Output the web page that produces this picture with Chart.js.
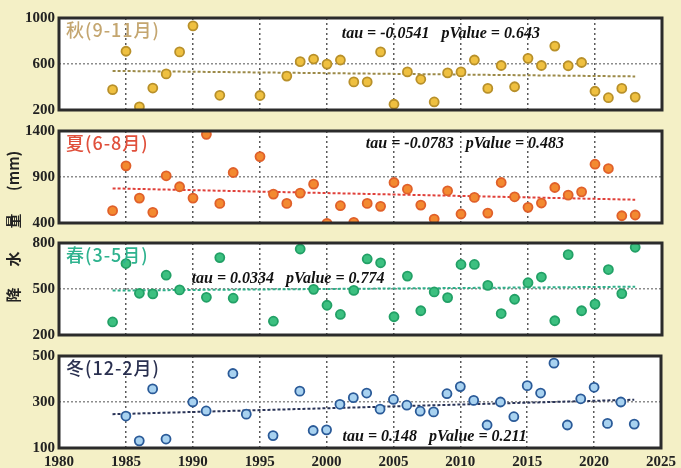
<!DOCTYPE html>
<html>
<head>
<meta charset="utf-8">
<script src="https://cdn.jsdelivr.net/npm/chart.js@4.4.1/dist/chart.umd.min.js"></script>
<style>
body { margin: 0; background: #f4f0c6; }
#wrap { position: relative; width: 681px; height: 468px; background: #f4f0c6; overflow: hidden; }
#wrap canvas { position: absolute; left: 0; }
.yt { position: absolute; font-family: "Noto Sans CJK SC"; font-weight: bold; font-size: 15px; color: #222;
      line-height: 16px; width: 40px; height: 16px; text-align: center; transform: rotate(-90deg); }
</style>
</head>
<body>
<div id="wrap">
  <canvas id="autumn" width="681" height="122" style="top:4px"></canvas>
  <canvas id="summer" width="681" height="122" style="top:117px"></canvas>
  <canvas id="spring" width="681" height="122" style="top:229px"></canvas>
  <canvas id="winter" width="681" height="132" style="top:342px"></canvas>
  <div class="yt" style="left:-7px;top:287px">降</div>
  <div class="yt" style="left:-7px;top:251px">水</div>
  <div class="yt" style="left:-7px;top:213px">量</div>
  <div class="yt" style="left:-7px;top:163px">(mm)</div>
</div>
<script>
// years 1984-2023, null where the reference shows no point
const years = [1984, 1985, 1986, 1987, 1988, 1989, 1990, 1991, 1992, 1993,
               1994, 1995, 1996, 1997, 1998, 1999, 2000, 2001, 2002, 2003,
               2004, 2005, 2006, 2007, 2008, 2009, 2010, 2011, 2012, 2013,
               2014, 2015, 2016, 2017, 2018, 2019, 2020, 2021, 2022, 2023];

const autumnRain = [377, 711, 228, 391, 514, 705, 932, null, 328, null,
                    null, 326, null, 495, 621, 643, 599, 635, 444, 444,
                    705, 250, 531, 467, 270, 523, 531, 635, 388, 587,
                    402, 649, 587, 756, 585, 613, 363, 307, 388, 312];

const summerRain = [534, 1021, 671, 516, 913, 794, 671, 1364, 613, 949,
                    null, 1122, 714, 613, 725, 822, 396, 588, 407, 613,
                    581, 840, 768, 595, 443, 750, 498, 678, 508, 840,
                    685, 570, 617, 786, 703, 739, 1039, 992, 479, 487];

const springRain = [285, 666, 472, 468, 590, 494, null, 446, 705, 440,
                    null, null, 290, null, 761, 498, 394, 334, 491, 696,
                    671, 319, 584, 358, 481, 444, 660, 660, 524, 340,
                    433, 541, 578, 293, 724, 358, 401, 627, 470, 772];

const winterRain = [null, 239, 131, 357, 139, null, 300, 261, null, 424,
                    247, null, 154, null, 347, 176, 179, 290, 319, 339,
                    269, 311, 286, 260, 257, 336, 367, 307, 200, 300,
                    236, 371, 339, 469, 200, 314, 364, 207, 300, 204];

// trend line end values at 1984 and 2023
const trendYears = [1984, 2023];
const autumnTrend = [540, 492];
const summerTrend = [776, 653];
const springTrend = [490, 515];
const winterTrend = [247, 310];

const xTicks = [1980, 1985, 1990, 1995, 2000, 2005, 2010, 2015, 2020, 2025];

// plot area of each panel in page pixels (top edge), all 92 high
const panelTops = { autumn: 18, summer: 131, spring: 243, winter: 356 };
const panelHeight = 92;

const panelPlugin = {
    id: 'panel',
    beforeDraw(chart) {
        const a = chart.chartArea, ctx = chart.ctx;
        ctx.save();
        ctx.fillStyle = '#ffffff';
        ctx.fillRect(a.left, a.top, a.right - a.left, a.bottom - a.top);
        ctx.restore();
    },
    afterDraw(chart, args, opts) {
        const a = chart.chartArea, ctx = chart.ctx;
        ctx.save();
        ctx.strokeStyle = '#2b2b2b';
        ctx.lineWidth = 3;
        ctx.strokeRect(a.left, a.top, a.right - a.left, a.bottom - a.top);

        ctx.fillStyle = opts.labelColor;
        ctx.font = '500 18px "Noto Sans CJK SC"';
        ctx.letterSpacing = '1px';
        ctx.textAlign = 'left';
        ctx.textBaseline = 'middle';
        ctx.fillText(opts.label, a.left + 7, a.top + 12);

        const xs = chart.scales.x, ys = chart.scales.y;
        ctx.letterSpacing = '0px';
        ctx.fillStyle = '#111';
        ctx.font = 'italic bold 16px "Liberation Serif"';
        ctx.fillText(opts.stat, xs.getPixelForValue(opts.statAt[0]), ys.getPixelForValue(opts.statAt[1]));
        ctx.restore();
    }
};

function makePanel(id, values, trend, yMin, yMax, look, showX) {
    const pts = [];
    years.forEach((yr, i) => {
        if (values[i] !== null) pts.push({ x: yr, y: values[i] });
    });
    const mid = (yMin + yMax) / 2;
    const canvas = document.getElementById(id);
    const chart = new Chart(canvas, {
        type: 'scatter',
        data: {
            datasets: [
                {
                    data: pts,
                    pointRadius: 4.5,
                    pointBackgroundColor: look.fill,
                    pointBorderColor: look.edge,
                    pointBorderWidth: 1.8,
                    order: 1
                },
                {
                    type: 'line',
                    data: [{ x: trendYears[0], y: trend[0] }, { x: trendYears[1], y: trend[1] }],
                    borderColor: look.trend,
                    borderWidth: 2,
                    borderDash: [3, 2],
                    pointRadius: 0,
                    fill: false,
                    order: 2
                }
            ]
        },
        options: {
            responsive: false,
            maintainAspectRatio: false,
            animation: false,
            layout: { padding: { top: 10, right: 19, left: 0, bottom: 0 } },
            plugins: {
                legend: { display: false },
                tooltip: { enabled: false },
                panel: { label: look.label, labelColor: look.labelColor, stat: look.stat, statAt: look.statAt }
            },
            scales: {
                x: {
                    type: 'linear',
                    min: 1980,
                    max: 2025,
                    afterBuildTicks: s => { s.ticks = xTicks.map(v => ({ value: v })); },
                    ticks: {
                        display: showX,
                        callback: v => String(v),
                        font: { family: 'Liberation Serif', weight: 'bold', size: 15 },
                        color: '#222',
                        padding: 5,
                        maxRotation: 0,
                        autoSkip: false
                    },
                    grid: {
                        color: c => (c.tick && c.tick.value > 1980 && c.tick.value < 2025) ? '#5a5a5a' : 'rgba(0,0,0,0)',
                        lineWidth: 1.5,
                        drawTicks: false
                    },
                    border: { display: false, dash: [2, 3] },
                    afterFit: s => { s.height = showX ? 24 : 10; }
                },
                y: {
                    min: yMin,
                    max: yMax,
                    afterBuildTicks: s => { s.ticks = [yMin, mid, yMax].map(v => ({ value: v })); },
                    ticks: {
                        callback: v => String(v),
                        font: { family: 'Liberation Serif', weight: 'bold', size: 15 },
                        color: '#222',
                        padding: 4
                    },
                    grid: {
                        color: c => (c.tick && c.tick.value === mid) ? '#8c8c8c' : 'rgba(0,0,0,0)',
                        lineWidth: 1.5,
                        drawTicks: false
                    },
                    border: { display: false, dash: [2, 2] },
                    afterFit: s => { s.width = 59; }
                }
            }
        },
        plugins: [panelPlugin]
    });

    // make the plot area exactly panelHeight tall and put it at its page position
    const a = chart.chartArea;
    const fix = panelHeight - (a.bottom - a.top);
    if (fix !== 0) chart.resize(681, canvas.height + fix);
    canvas.style.top = (panelTops[id] - chart.chartArea.top) + 'px';
    return chart;
}

makePanel('autumn', autumnRain, autumnTrend, 200, 1000, {
    fill: '#efc040', edge: '#b8902a', trend: '#9c8a48',
    label: '秋(9-11月)', labelColor: '#c4a670',
    stat: 'tau = -0.0541   pValue = 0.643', statAt: [2001.1, 860]
}, false);

makePanel('summer', summerRain, summerTrend, 400, 1400, {
    fill: '#f38a30', edge: '#e0602a', trend: '#e0403a',
    label: '夏(6-8月)', labelColor: '#e0503c',
    stat: 'tau = -0.0783   pValue = 0.483', statAt: [2002.9, 1255]
}, false);

makePanel('spring', springRain, springTrend, 200, 800, {
    fill: '#3cc080', edge: '#22a066', trend: '#2fb08a',
    label: '春(3-5月)', labelColor: '#2fb38f',
    stat: 'tau = 0.0334   pValue = 0.774', statAt: [1989.9, 567]
}, false);

makePanel('winter', winterRain, winterTrend, 100, 500, {
    fill: '#a8d2f0', edge: '#2a5a98', trend: '#2a3458',
    label: '冬(12-2月)', labelColor: '#2a3050',
    stat: 'tau = 0.148   pValue = 0.211', statAt: [2001.2, 147]
}, true);
</script>
</body>
</html>
